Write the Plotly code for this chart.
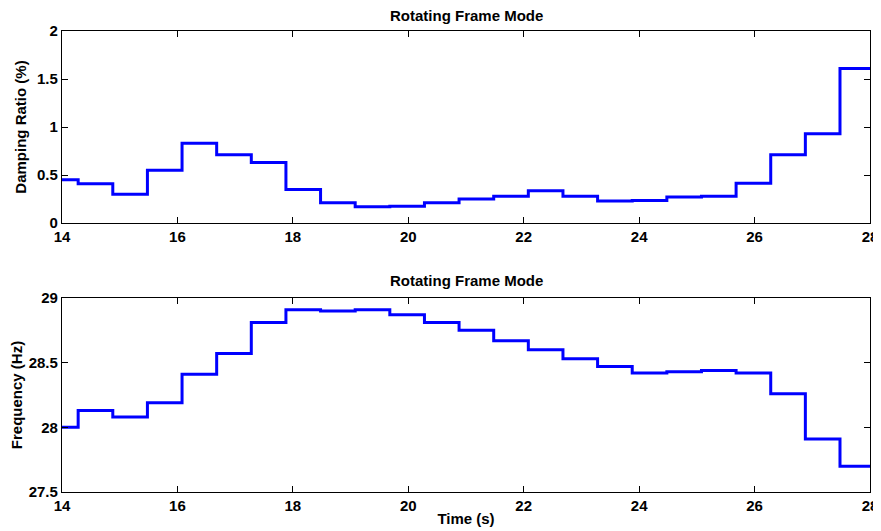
import plotly.graph_objects as go

# Step edges (s)
time_edges = [14.0, 14.28, 14.88, 15.48, 16.08, 16.68, 17.28, 17.88, 18.48, 19.08,
              19.68, 20.28, 20.88, 21.48, 22.08, 22.68, 23.28, 23.88, 24.48, 25.08,
              25.68, 26.28, 26.88, 27.48, 28.0]
damping = [0.45, 0.41, 0.30, 0.55, 0.83, 0.71, 0.63, 0.35, 0.21, 0.17,
           0.175, 0.21, 0.25, 0.28, 0.335, 0.28, 0.23, 0.235, 0.27, 0.28,
           0.415, 0.71, 0.93, 1.61]
frequency = [28.0, 28.13, 28.08, 28.19, 28.41, 28.57, 28.81, 28.91, 28.90, 28.91,
             28.87, 28.81, 28.75, 28.67, 28.60, 28.53, 28.47, 28.42, 28.43, 28.44,
             28.42, 28.26, 27.91, 27.70]
x_ticks = [14, 16, 18, 20, 22, 24, 26, 28]
damp_ticks = [0, 0.5, 1, 1.5, 2]
freq_ticks = [27.5, 28, 28.5, 29]
title_text = "Rotating Frame Mode"

FONT = "Liberation Sans"
BLUE = "#0000FF"

fig = go.Figure()
fig.add_trace(go.Scatter(x=time_edges, y=damping + [damping[-1]], mode="lines",
                         line=dict(color=BLUE, width=3, shape="hv"),
                         xaxis="x", yaxis="y", showlegend=False))
fig.add_trace(go.Scatter(x=time_edges, y=frequency + [frequency[-1]], mode="lines",
                         line=dict(color=BLUE, width=3, shape="hv"),
                         xaxis="x2", yaxis="y2", showlegend=False))

tickfont = dict(family=FONT, size=15, color="black", weight="bold")
labelfont = dict(family=FONT, size=15, color="black", weight="bold")
axis_common = dict(showline=True, linecolor="black", linewidth=1.2, mirror="ticks",
                   ticks="inside", ticklen=6, tickcolor="black", showgrid=False,
                   zeroline=False, tickfont=tickfont, automargin=False)

# The page body adds an 8px offset, so the figure is sized to fit the window.
fig.update_layout(
    width=873, height=523,
    margin=dict(l=54, r=11, t=23, b=39),
    paper_bgcolor="white", plot_bgcolor="white",
    xaxis=dict(domain=[0, 1], anchor="y", range=[14, 28], tickvals=x_ticks, **axis_common),
    yaxis=dict(domain=[0.5835, 1], anchor="x", range=[0, 2], tickvals=damp_ticks,
               ticktext=["0", "0.5", "1", "1.5", "2"],
               title=dict(text="Damping Ratio (%)", standoff=6, font=labelfont),
               **axis_common),
    xaxis2=dict(domain=[0, 1], anchor="y2", range=[14, 28], tickvals=x_ticks,
                title=dict(text="Time (s)", standoff=0, font=labelfont),
                **axis_common),
    yaxis2=dict(domain=[0, 0.4208], anchor="x2", range=[27.5, 29], tickvals=freq_ticks,
                ticktext=["27.5", "28", "28.5", "29"],
                title=dict(text="Frequency (Hz)", standoff=6, font=labelfont),
                **axis_common),
    annotations=[
        dict(text=title_text, x=0.5, y=1, xref="paper", yref="paper", xanchor="center",
             yanchor="bottom", yshift=5, showarrow=False,
             font=dict(family=FONT, size=15, color="black", weight="bold")),
        dict(text=title_text, x=0.5, y=0.4208, xref="paper", yref="paper", xanchor="center",
             yanchor="bottom", yshift=7, showarrow=False,
             font=dict(family=FONT, size=15, color="black", weight="bold")),
    ],
)

fig.write_html("out.html")
